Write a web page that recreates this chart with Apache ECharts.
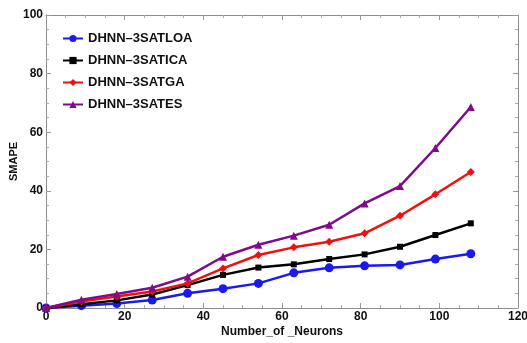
<!DOCTYPE html>
<html>
<head>
<meta charset="utf-8">
<script src="https://cdn.jsdelivr.net/npm/echarts@6/dist/echarts.min.js"></script>
<style>
  * { margin: 0; padding: 0; }
  body { background: #fff; }
  #chart { width: 527px; height: 343px; }
</style>
</head>
<body>
<div id="chart"></div>
<script>
// values
var neurons = [0, 9, 18, 27, 36, 45, 54, 63, 72, 81, 90, 99, 108]
var loa = [0, 0.8, 1.5, 2.7, 5.0, 6.6, 8.4, 12.0, 13.7, 14.4, 14.7, 16.7, 18.5]
var ica = [0, 1.3, 2.6, 4.6, 7.8, 11.3, 13.8, 14.9, 16.7, 18.3, 20.9, 24.9, 28.9]
var ga = [0, 2.2, 3.9, 5.6, 8.4, 13.5, 18.1, 20.7, 22.6, 25.5, 31.5, 38.8, 46.4]
var es = [0, 2.8, 4.8, 6.9, 10.7, 17.5, 21.6, 24.7, 28.4, 35.7, 41.6, 54.6, 68.6]

var names = ['DHNN\u20133SATLOA', 'DHNN\u20133SATICA', 'DHNN\u20133SATGA', 'DHNN\u20133SATES']
var colors = ['#1a1aee', '#000000', '#f01010', '#800a8c']
var symbols = ['circle', 'rect', 'diamond', 'triangle']
var sizes = [9, 6, 8, 8]
var allData = [loa, ica, ga, es]

var font = '"Liberation Sans", Arial, sans-serif'

function pairs (ys) {
  return neurons.map(function (x, i) { return [x, ys[i]] })
}

var axisLine = { show: true, onZero: false, lineStyle: { color: '#8c8c8c', width: 1 } }
var tick = { show: true, inside: true, length: 5, lineStyle: { color: '#999' } }
var minor = { show: true, splitNumber: 4, length: 3, lineStyle: { color: '#aaa' } }

var chart = echarts.init(document.getElementById('chart'))
chart.setOption({
  animation: false,
  grid: {
    left: 46, right: 9, top: 15, bottom: 35,
    outerBoundsMode: 'none',
    containLabel: false
  },
  legend: {
    orient: 'vertical',
    left: 57,
    top: 27,
    itemGap: 9,
    itemWidth: 20,
    itemHeight: 9,
    data: names,
    textStyle: { fontFamily: font, fontWeight: 'bold', fontSize: 13, color: '#111' }
  },
  xAxis: [{
    type: 'value',
    min: 0,
    max: 120,
    interval: 20,
    name: 'Number_of _Neurons',
    nameLocation: 'middle',
    nameGap: 18,
    nameMoveOverlap: false,
    nameTextStyle: { fontFamily: font, fontWeight: 'bold', fontSize: 12, color: '#111' },
    axisLine: axisLine,
    axisTick: tick,
    minorTick: minor,
    splitLine: { show: false },
    axisLabel: { fontFamily: font, fontWeight: 'bold', fontSize: 12, color: '#111', margin: 3 }
  }, {
    type: 'value',
    position: 'top',
    min: 0,
    max: 120,
    interval: 20,
    axisLine: axisLine,
    axisTick: tick,
    minorTick: minor,
    splitLine: { show: false },
    axisLabel: { show: false }
  }],
  yAxis: [{
    type: 'value',
    min: 0,
    max: 100,
    interval: 20,
    name: 'SMAPE',
    nameLocation: 'middle',
    nameGap: 27,
    nameMoveOverlap: false,
    nameTextStyle: { fontFamily: font, fontWeight: 'bold', fontSize: 11, color: '#111' },
    axisLine: axisLine,
    axisTick: tick,
    minorTick: minor,
    splitLine: { show: false },
    axisLabel: { fontFamily: font, fontWeight: 'bold', fontSize: 12, color: '#111', margin: 3 }
  }, {
    type: 'value',
    position: 'right',
    min: 0,
    max: 100,
    interval: 20,
    axisLine: axisLine,
    axisTick: tick,
    minorTick: minor,
    splitLine: { show: false },
    axisLabel: { show: false }
  }],
  series: names.map(function (n, i) {
    return {
      name: n,
      type: 'line',
      data: pairs(allData[i]),
      symbol: symbols[i],
      symbolSize: sizes[i],
      showAllSymbol: true,
      color: colors[i],
      lineStyle: { width: 2.5, color: colors[i] },
      itemStyle: { color: colors[i] },
      z: 2 + i
    }
  })
})
</script>
</body>
</html>
